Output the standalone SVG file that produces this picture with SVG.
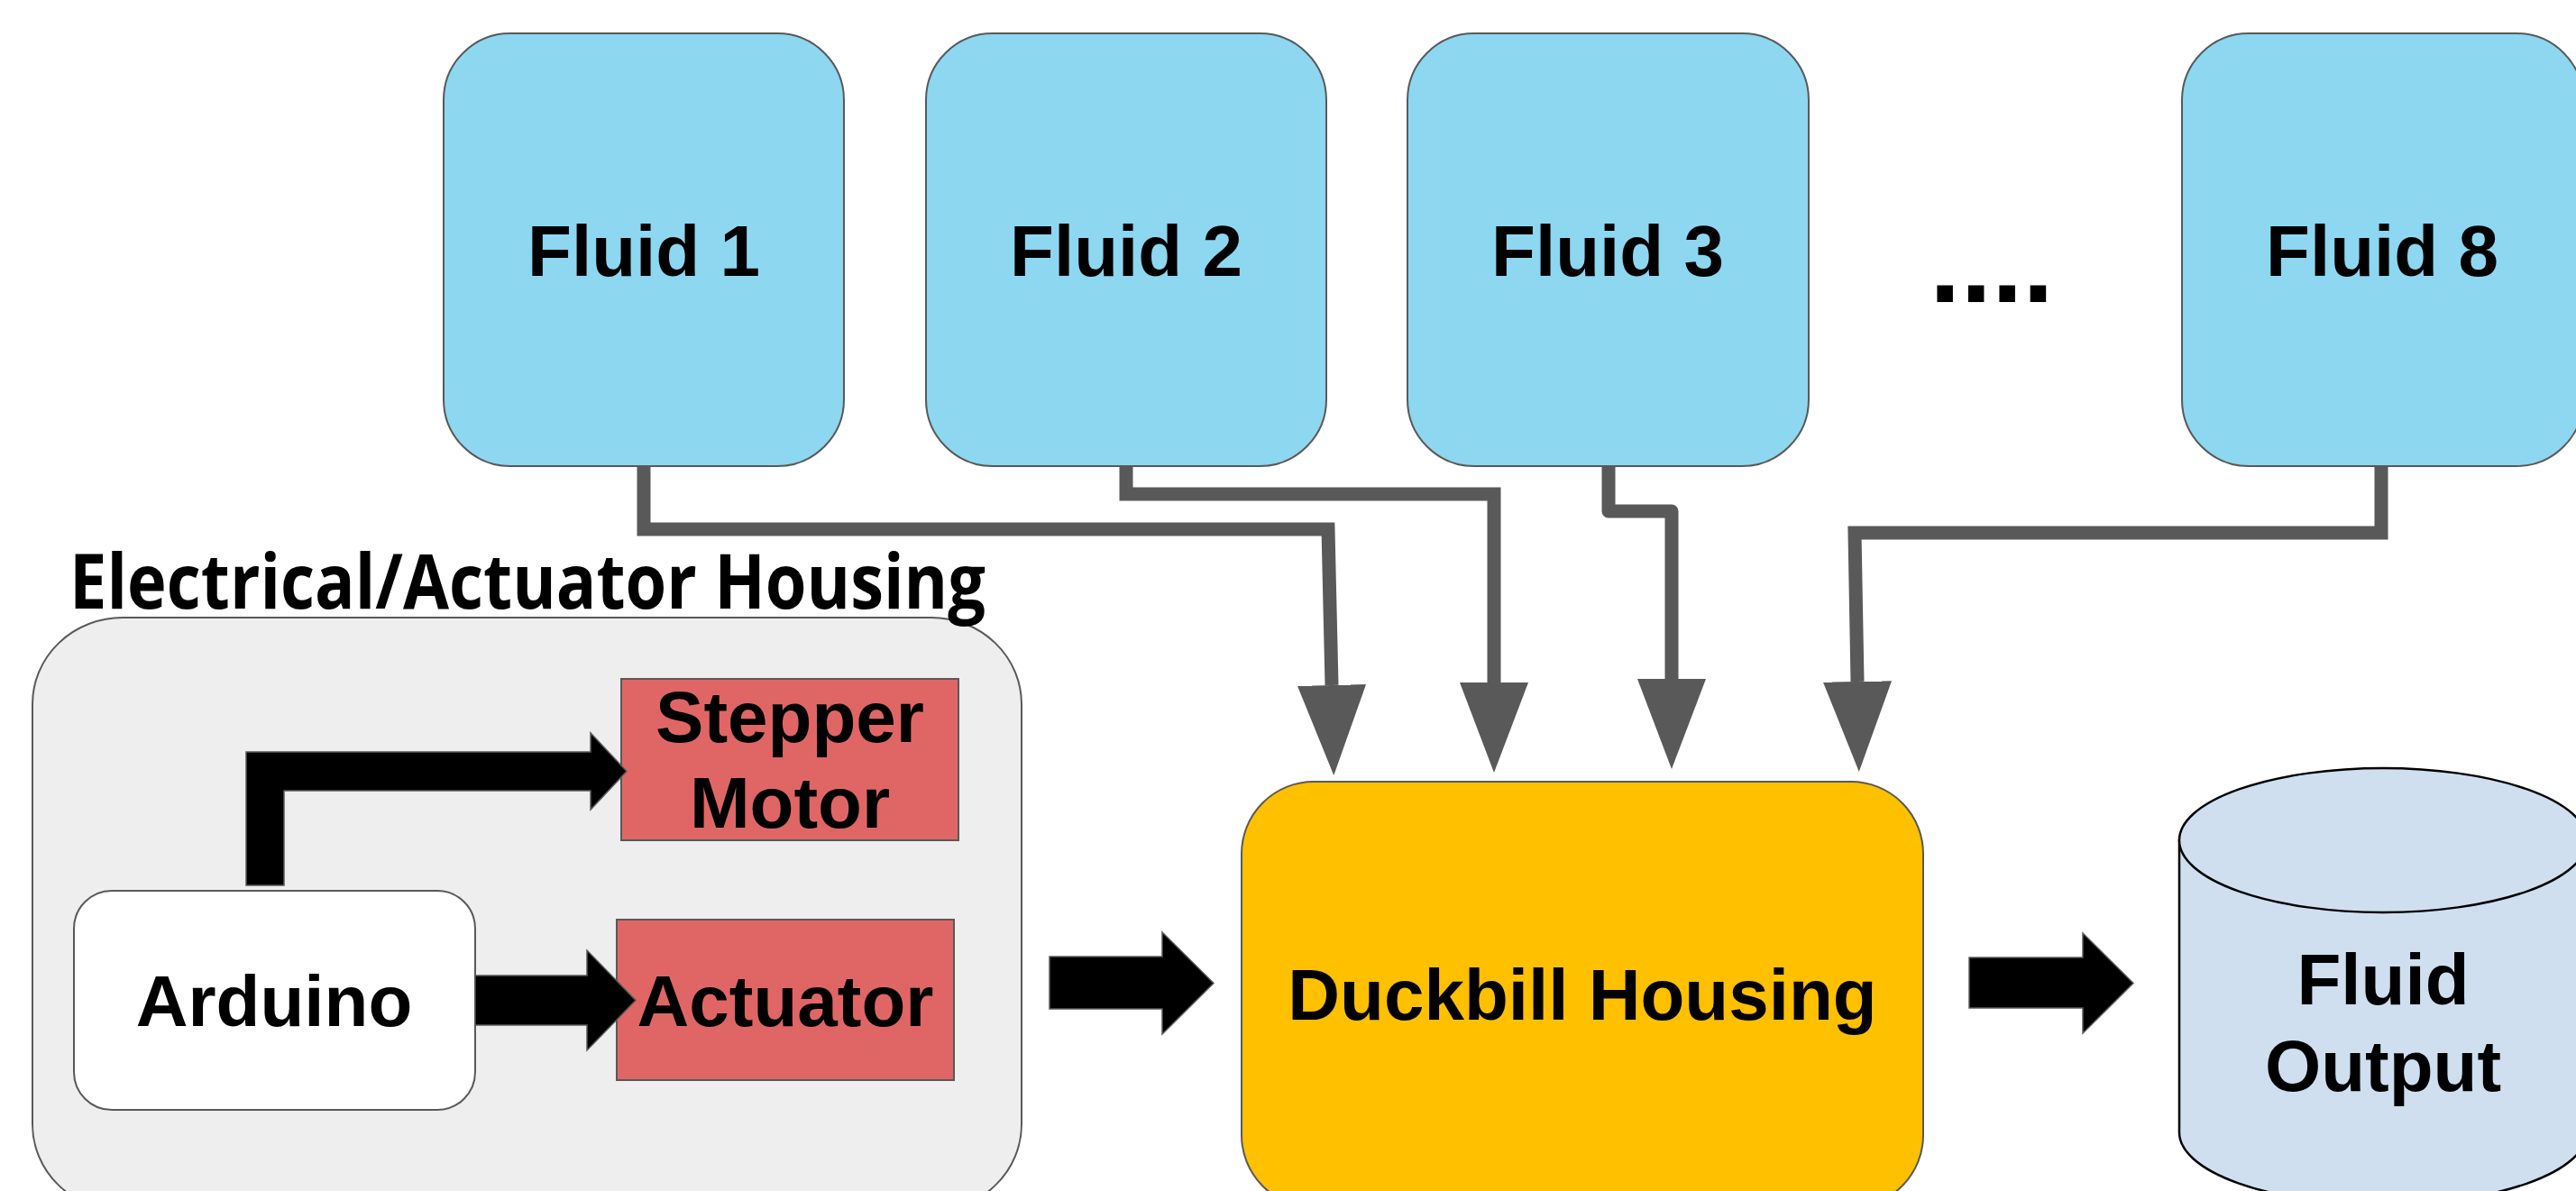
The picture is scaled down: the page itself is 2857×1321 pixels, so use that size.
<svg xmlns="http://www.w3.org/2000/svg" width="2857" height="1321" viewBox="0 0 2857 1321">
<style>
.lbl{font-family:"Liberation Sans",Arial,sans-serif;font-weight:bold;font-size:80px;fill:#000;text-anchor:middle}
.fluid{fill:#8dd7f0;stroke:#595959;stroke-width:2}
.red{fill:#e06666;stroke:#595959;stroke-width:2}
.pipe{fill:none;stroke:#595959;stroke-width:15;marker-end:url(#ah)}
.blk{fill:#000;stroke:#595959;stroke-width:1.5}
</style>
<defs>
<marker id="ah" viewBox="0 0 100 76" refX="0" refY="38" markerWidth="100" markerHeight="76" markerUnits="userSpaceOnUse" orient="auto">
<path d="M0,0 L100,38 L0,76 z" fill="#595959"/>
</marker>
</defs>
<rect width="2857" height="1321" fill="#fff"/>

<g id="housing">
<rect x="36" y="685" width="1097" height="658" rx="100" ry="96" fill="#eeeeee" stroke="#595959" stroke-width="2"/>
<text x="77" y="675" font-family="'Open Sans','Noto Sans',sans-serif" font-weight="bold" font-size="85" textLength="1016" lengthAdjust="spacingAndGlyphs" fill="#000">Electrical/Actuator Housing</text>
</g>

<g id="fluid1"><rect class="fluid" x="492" y="37" width="444" height="480" rx="74"/><text class="lbl" x="714" y="306">Fluid 1</text></g>
<g id="fluid2"><rect class="fluid" x="1027" y="37" width="444" height="480" rx="74"/><text class="lbl" x="1249" y="306">Fluid 2</text></g>
<g id="fluid3"><rect class="fluid" x="1561" y="37" width="445" height="480" rx="74"/><text class="lbl" x="1783" y="306">Fluid 3</text></g>
<g id="ellipsis"><text x="2140" y="335" font-family="'Liberation Sans',Arial,sans-serif" font-weight="bold" font-size="124" fill="#000">....</text></g>
<g id="fluid8"><rect class="fluid" x="2420" y="37" width="445" height="480" rx="74"/><text class="lbl" x="2642" y="306">Fluid 8</text></g>

<g id="stepper"><rect class="red" x="689" y="753" width="374" height="179"/><text class="lbl" x="876" y="823">Stepper</text><text class="lbl" x="876" y="918">Motor</text></g>
<g id="actuator"><rect class="red" x="684" y="1020" width="374" height="178"/><text class="lbl" x="871" y="1138">Actuator</text></g>
<g id="arduino"><rect x="82" y="988" width="445" height="243" rx="42" fill="#fff" stroke="#595959" stroke-width="2"/><text class="lbl" x="304" y="1138">Arduino</text></g>

<g id="duckbill"><rect x="1377" y="867" width="756" height="472" rx="80" fill="#ffc000" stroke="#595959" stroke-width="2"/><text class="lbl" x="1755" y="1131">Duckbill Housing</text></g>

<g id="output">
<path d="M2417,932 V1256 A226,80 0 0 0 2869,1256 V932 z" fill="#cfdff0" stroke="#000" stroke-width="2.5"/>
<ellipse cx="2643" cy="932" rx="226" ry="80" fill="#cfdff0" stroke="#000" stroke-width="2.5"/>
<text class="lbl" x="2643" y="1114">Fluid</text>
<text class="lbl" x="2643" y="1210">Output</text>
</g>

<g id="connectors">
<path class="pipe" d="M714,517 V587 H1473 L1477,760"/>
<path class="pipe" d="M1249,517 V548 H1657 V757"/>
<path class="pipe" d="M1784,517 V567 H1854 V753" stroke-linejoin="round"/>
<path class="pipe" d="M2641,517 V591 H2057 L2060,756"/>
<polygon class="blk" points="273,982 273,834 655,834 655,813 695,855.5 655,898 655,877 315,877 315,982"/>
<polygon class="blk" points="527,1082 651,1082 651,1054 705,1109.5 651,1165 651,1137 527,1137"/>
<polygon class="blk" points="1164,1061 1289,1061 1289,1034 1346,1090.5 1289,1147 1289,1119 1164,1119"/>
<polygon class="blk" points="2184,1062 2310,1062 2310,1035 2366,1090.5 2310,1146 2310,1118 2184,1118"/>
</g>
</svg>
